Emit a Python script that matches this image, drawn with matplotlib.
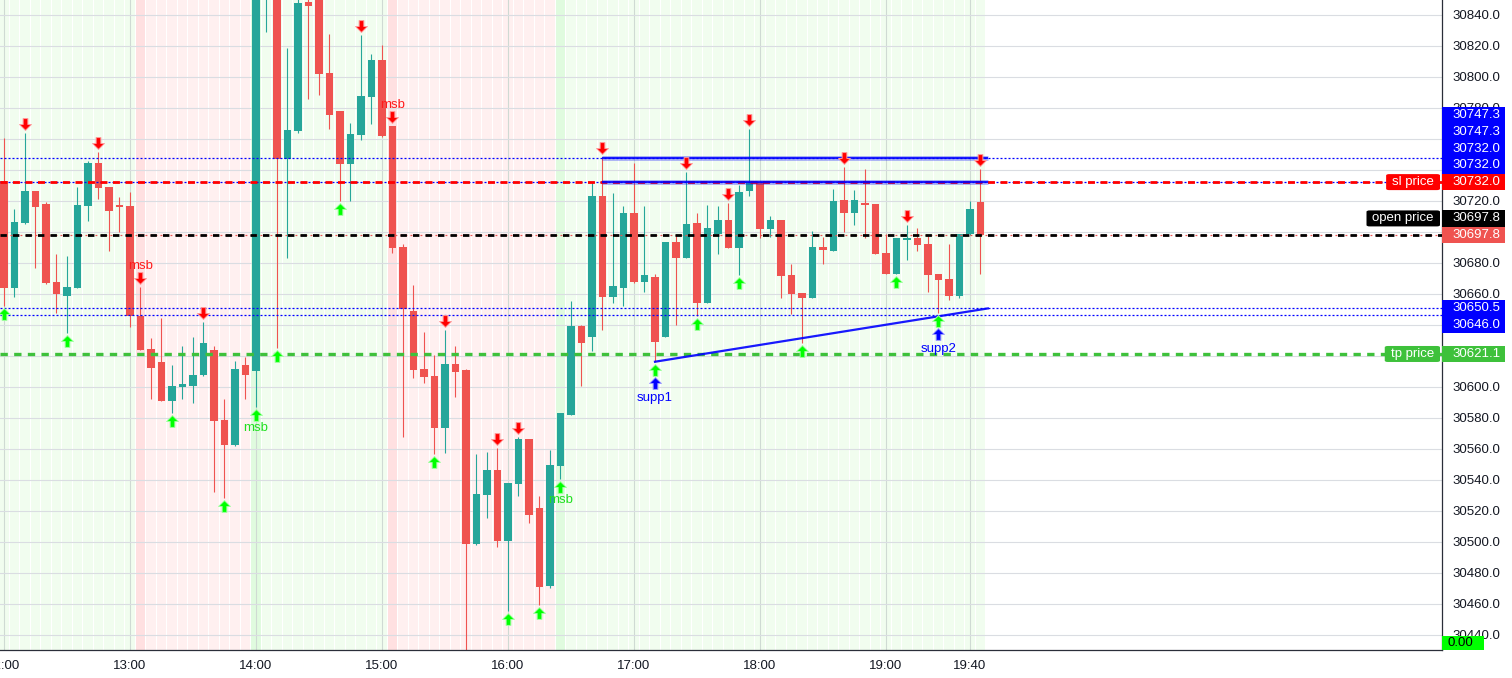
"""Tái tạo biểu đồ nến 5 phút với vùng msb, mức sl/tp và đường hỗ trợ/kháng cự."""

import matplotlib
import numpy as np

matplotlib.use("Agg")
from matplotlib import pyplot as plt
from matplotlib.patches import FancyBboxPatch, Rectangle
from matplotlib.path import Path
from matplotlib.transforms import offset_copy

OPENS = [
    30732.7, 30663.9, 30705.8, 30726.3, 30717.9, 30667.5, 30658.7, 30663.9, 30716.6, 30744.3,
    30728.8, 30717.2, 30716.6, 30645.6, 30624.3, 30615.9, 30590.9, 30600.0, 30600.6, 30607.7,
    30623.7, 30578.5, 30562.5, 30614.0, 30610.3, 30860.0, 30870.0, 30746.7, 30765.0, 30848.2,
    30855.0, 30802.4, 30777.9, 30743.9, 30762.6, 30787.1, 30810.8, 30768.2, 30690.1, 30648.7,
    30611.4, 30606.9, 30573.5, 30614.7, 30610.8, 30498.5, 30530.1, 30546.3, 30500.5, 30537.4,
    30566.3, 30521.8, 30471.4, 30549.0, 30581.9, 30639.2, 30632.1, 30723.0, 30657.9, 30663.9,
    30712.3, 30667.4, 30671.0, 30632.1, 30693.4, 30683.2, 30705.4, 30654.2, 30698.5, 30707.5,
    30689.7, 30726.5, 30732.3, 30701.9, 30707.5, 30672.0, 30660.5, 30657.4, 30690.1, 30687.7,
    30720.5, 30712.3, 30718.3, 30717.9, 30686.3, 30672.9, 30694.8, 30695.9, 30692.1, 30672.7,
    30669.5, 30658.7, 30698.3, 30719.2,
]
HIGHS = [
    30760.3, 30714.6, 30763.9, 30726.5, 30719.0, 30685.6, 30684.3, 30728.6, 30745.6, 30751.6,
    30729.0, 30722.4, 30725.6, 30664.3, 30631.4, 30644.3, 30614.0, 30626.3, 30632.1, 30641.7,
    30626.3, 30592.0, 30616.6, 30619.2, 30890.0, 30890.0, 30875.0, 30818.7, 30855.0, 30856.0,
    30860.0, 30827.5, 30778.0, 30770.1, 30826.9, 30814.6, 30820.5, 30768.5, 30691.9, 30665.6,
    30635.3, 30620.5, 30636.6, 30626.3, 30611.4, 30556.6, 30557.9, 30560.4, 30538.0, 30567.7,
    30566.5, 30529.5, 30559.2, 30583.0, 30655.3, 30639.5, 30732.3, 30748.4, 30725.2, 30716.6,
    30744.1, 30716.6, 30672.5, 30693.6, 30697.2, 30738.7, 30712.3, 30717.2, 30716.6, 30718.7,
    30730.1, 30766.3, 30732.5, 30710.1, 30707.7, 30679.2, 30660.7, 30700.5, 30696.6, 30727.5,
    30741.5, 30726.9, 30740.3, 30718.0, 30698.3, 30696.0, 30704.3, 30702.4, 30697.2, 30673.0,
    30692.1, 30698.5, 30720.0, 30740.3,
]
LOWS = [
    30652.1, 30658.1, 30705.0, 30676.8, 30666.0, 30647.4, 30634.8, 30663.5, 30707.1, 30721.3,
    30687.7, 30700.0, 30638.7, 30623.5, 30592.3, 30590.5, 30583.2, 30591.9, 30589.7, 30607.0,
    30532.3, 30528.0, 30562.0, 30592.3, 30587.1, 30829.0, 30624.8, 30682.8, 30763.9, 30785.8,
    30788.4, 30766.5, 30719.8, 30719.8, 30759.0, 30769.7, 30761.3, 30686.5, 30567.7, 30605.8,
    30602.6, 30556.6, 30557.4, 30593.5, 30428.0, 30498.0, 30515.5, 30496.8, 30455.3, 30529.7,
    30512.3, 30459.2, 30470.3, 30540.3, 30581.5, 30600.5, 30623.2, 30636.6, 30654.2, 30652.1,
    30667.0, 30661.3, 30616.1, 30631.8, 30639.8, 30683.0, 30645.6, 30654.0, 30685.6, 30689.5,
    30672.0, 30723.2, 30695.7, 30696.8, 30657.4, 30646.9, 30628.0, 30657.0, 30679.4, 30687.5,
    30700.0, 30704.3, 30696.1, 30685.5, 30672.5, 30672.5, 30681.7, 30687.7, 30661.3, 30647.4,
    30655.9, 30657.4, 30698.0, 30672.9,
]
CLOSES = [
    30663.9, 30706.3, 30726.3, 30716.1, 30667.1, 30660.0, 30664.3, 30717.2, 30744.3, 30728.4,
    30713.5, 30716.1, 30645.6, 30623.9, 30612.3, 30590.9, 30600.5, 30601.7, 30607.4, 30628.2,
    30578.0, 30562.5, 30611.4, 30607.5, 30880.0, 30885.0, 30746.7, 30765.6, 30847.7, 30845.8,
    30801.9, 30775.5, 30743.9, 30763.0, 30787.5, 30810.8, 30761.9, 30689.7, 30649.9, 30611.0,
    30606.5, 30573.5, 30614.7, 30609.5, 30498.5, 30530.8, 30546.3, 30500.5, 30537.9, 30566.3,
    30517.5, 30471.0, 30549.5, 30582.9, 30639.2, 30628.0, 30723.0, 30657.9, 30665.0, 30712.3,
    30667.7, 30672.3, 30629.0, 30693.4, 30683.2, 30705.0, 30654.2, 30702.4, 30707.5, 30689.7,
    30725.8, 30732.3, 30701.9, 30707.5, 30671.6, 30660.0, 30657.4, 30690.1, 30688.0, 30719.8,
    30712.3, 30720.5, 30717.2, 30685.8, 30672.9, 30695.9, 30695.9, 30691.6, 30672.3, 30669.0,
    30658.7, 30698.3, 30714.6, 30697.8,
]

HOUR_INDEX = [0, 12, 24, 36, 48, 60, 72, 84, 92]
HOUR_LABELS = ["12:00", "13:00", "14:00", "15:00", "16:00", "17:00", "18:00", "19:00", "19:40"]

# nến bắt đầu mỗi vùng nền, và phe của vùng đó
ZONE_STARTS = [0, 13, 24, 37, 53]
ZONE_SIDES = ["bull", "bear", "bull", "bear", "bull"]

RED_ARROW_BARS = [2, 9, 13, 19, 34, 37, 42, 47, 49, 57, 65, 69, 71, 80, 86, 93]
GREEN_ARROW_BARS = [0, 6, 16, 21, 24, 26, 32, 41, 48, 51, 53, 62, 66, 70, 76, 85, 89]
MSB_BEAR_BARS = [13, 37]
MSB_BULL_BARS = [24, 53]
SUPPORT_BARS = [62, 89]
SUPPORT_NAMES = ["supp1", "supp2"]

SL_PRICE = 30732.0
OPEN_PRICE = 30697.8
TP_PRICE = 30621.1
LAST_PRICE = 30697.8
BLUE_LEVELS = [30747.3, 30732.0, 30650.5, 30646.0]

RESIST_X = [57, 93.7]
RESIST_LEVELS = [30747.3, 30732.0]
SUPPORT_X = [62, 93.7]
SUPPORT_Y = [30616.1, 30650.5]

# nhóm nhãn giá bên trục phải: (vị trí nhãn neo đúng giá, giá, màu)
TAG_GROUPS = [
    (4, [30747.3, 30747.3, 30732.0, 30732.0, 30732.0],
     ["#0000ff", "#0000ff", "#0000ff", "#0000ff", "#ff0000"]),
    (1, [30697.8, 30697.8], ["#000000", "#ef5350"]),
    (0, [30650.5, 30646.0], ["#0000ff", "#0000ff"]),
    (0, [30621.1], ["#3ec13b"]),
]
# nhãn tên bên trái trục: (nhóm, vị trí trong nhóm, chữ, màu)
NAME_TAGS = [
    (0, 4, "sl price", "#ff0000"),
    (1, 0, "open price", "#000000"),
    (3, 0, "tp price", "#3ec13b"),
]
INDICATOR_VALUE = 0.0

WIDTH_PX, HEIGHT_PX, DPI = 1512, 678, 100
PLOT_RIGHT_PX, PLOT_BOTTOM_PX = 1442, 650
BAR_PX, FIRST_BAR_PX = 10.5, 4.0
X_MIN = -FIRST_BAR_PX / BAR_PX
X_MAX = X_MIN + PLOT_RIGHT_PX / BAR_PX
Y_MIN, Y_MAX = 30430.1, 30849.5
TAG_H = 16.7

UP_COLOR = "#26a69a"
DOWN_COLOR = "#ef5350"
TEXT_COLOR = "#131722"
FONT_SIZE = 9.5


def _zones(ax, n: int) -> None:
    """Vẽ dải nền xanh/đỏ nhạt theo từng nến, nến đầu vùng đậm hơn."""
    palette = {
        ("bull", False): "#f1fdef",
        ("bull", True): "#e0fbdf",
        ("bear", False): "#fff0f0",
        ("bear", True): "#ffe0e1",
    }
    colors = []
    for k, start in enumerate(ZONE_STARTS):
        end = ZONE_STARTS[k + 1] if k + 1 < len(ZONE_STARTS) else n
        for i in range(start, end):
            colors.append(palette[(ZONE_SIDES[k], k > 0 and i == start)])
    ax.bar(np.arange(n), Y_MAX - Y_MIN + 50, bottom=Y_MIN - 25, width=0.9,
           color=colors, linewidth=0, zorder=-2)


def _candles(ax) -> None:
    """Vẽ râu và thân nến."""
    o, h, l, c = (np.asarray(v) for v in (OPENS, HIGHS, LOWS, CLOSES))
    idx = np.arange(len(o))
    colors = np.where(c >= o, UP_COLOR, DOWN_COLOR)
    ax.vlines(idx, l, h, colors=colors, linewidth=0.8, zorder=2)
    ax.bar(idx, np.maximum(np.abs(c - o), 0.8), bottom=np.minimum(o, c), width=0.68,
           color=colors, linewidth=0, zorder=2.1)


def _levels(ax) -> None:
    """Vẽ các mức giá ngang, đường kháng cự và đường hỗ trợ."""
    for level in BLUE_LEVELS:
        ax.axhline(level, color="#0000ff", linewidth=0.9, linestyle=(0, (1.6, 1.6)), zorder=3)
    ax.axhline(LAST_PRICE, color="#ef5350", linewidth=0.9, linestyle=(0, (1.5, 2.5)), zorder=3)
    ax.axhline(OPEN_PRICE, color="#000000", linewidth=2.0, linestyle=(0, (2.3, 2.2)), zorder=3.2)
    ax.axhline(SL_PRICE, color="#ff0000", linewidth=2.0, linestyle=(0, (2.5, 2.0)), zorder=3.2)
    ax.axhline(TP_PRICE, color="#3ec13b", linewidth=2.4, linestyle=(0, (2.2, 1.9)), zorder=3.2)
    for level in RESIST_LEVELS:
        ax.plot(RESIST_X, [level, level], color="#0000ff", alpha=0.28, linewidth=3.6,
                solid_capstyle="butt", zorder=3.4)
        ax.plot(RESIST_X, [level, level], color="#0000ff", alpha=0.85, linewidth=1.5,
                solid_capstyle="butt", zorder=3.5)
    ax.plot(SUPPORT_X, SUPPORT_Y, color="#0000ff", alpha=0.9, linewidth=1.6, zorder=3.5)


def _arrow(up: bool) -> Path:
    """Mũi tên khối dùng làm marker."""
    sign = 1 if up else -1
    verts = [(-0.2, -0.5), (0.2, -0.5), (0.2, 0.0), (0.5, 0.0), (0.0, 0.5),
             (-0.5, 0.0), (-0.2, 0.0), (-0.2, -0.5)]
    verts = [(x, sign * y) for x, y in verts]
    codes = [Path.MOVETO] + [Path.LINETO] * 6 + [Path.CLOSEPOLY]
    return Path(verts, codes)


def _signals(fig, ax) -> None:
    """Vẽ mũi tên tín hiệu, chữ msb và nhãn supp."""
    highs = np.asarray(HIGHS)
    lows = np.asarray(LOWS)

    def shifted(dy):
        return offset_copy(ax.transData, fig=fig, x=0, y=dy, units="dots")

    ax.plot(RED_ARROW_BARS, highs[RED_ARROW_BARS], linestyle="none", marker=_arrow(False),
            markersize=8.5, markerfacecolor="#ff0000", markeredgecolor="#ff9a9a",
            markeredgewidth=0.7, transform=shifted(9), zorder=4)
    ax.plot(GREEN_ARROW_BARS, lows[GREEN_ARROW_BARS], linestyle="none", marker=_arrow(True),
            markersize=8.5, markerfacecolor="#00ff00", markeredgecolor="#a0ffa0",
            markeredgewidth=0.7, transform=shifted(-8), zorder=4)
    ax.plot(SUPPORT_BARS, lows[SUPPORT_BARS], linestyle="none", marker=_arrow(True),
            markersize=8.5, markerfacecolor="#0000ff", markeredgecolor="#9a9aff",
            markeredgewidth=0.7, transform=shifted(-21), zorder=4)
    for bar in MSB_BEAR_BARS:
        ax.text(bar, highs[bar], "msb", color="#ff1a1a", fontsize=9.5, ha="center",
                va="center", transform=shifted(21), zorder=4)
    for bar in MSB_BULL_BARS:
        ax.text(bar, lows[bar], "msb", color="#1fe01f", fontsize=9.5, ha="center",
                va="center", transform=shifted(-21), zorder=4)
    for bar, name in zip(SUPPORT_BARS, SUPPORT_NAMES, strict=True):
        ax.text(bar, lows[bar], name, color="#0000ff", fontsize=9.5, ha="center",
                va="center", transform=shifted(-36), zorder=4)


def _style_axes(ax) -> None:
    """Trục giờ bên dưới, trục giá bên phải và lưới nhạt."""
    ax.set_xticks(HOUR_INDEX, HOUR_LABELS)
    ax.yaxis.tick_right()
    ax.tick_params(axis="y", length=0, pad=7.3, labelsize=FONT_SIZE, labelcolor=TEXT_COLOR)
    ax.tick_params(axis="x", length=0, pad=7.0, labelsize=FONT_SIZE, labelcolor=TEXT_COLOR)
    ax.set_axisbelow(True)
    ax.grid(axis="y", color="#dadde2", linewidth=0.8)
    ax.grid(axis="x", color="#cfdad3", linewidth=0.8)
    for side in ("left", "top"):
        ax.spines[side].set_visible(False)
    for side in ("right", "bottom"):
        ax.spines[side].set_color("#2a2e39")
        ax.spines[side].set_linewidth(0.9)


def _price_ticks(ax, tag_spans: list[tuple[float, float]]) -> None:
    """Nhãn giá trục phải; bỏ chữ của các mức bị nhãn màu che kín."""
    y_ticks = np.arange(30440, 30841, 20)
    labels = []
    for value in y_ticks:
        y = ax.transData.transform((0, value))[1]
        hidden = any(lo <= y - 5 and y + 5 <= hi for lo, hi in tag_spans)
        labels.append("" if hidden else f"{value:.1f}")
    ax.set_yticks(y_ticks, labels)


def _price_tags(fig, ax) -> list[tuple[float, float]]:
    """Nhãn giá xếp chồng trên trục phải và nhãn tên bên trái trục."""
    renderer = fig.canvas.get_renderer()
    x0 = PLOT_RIGHT_PX
    positions = []
    for anchor, values, colors in TAG_GROUPS:
        y_anchor = ax.transData.transform((0, values[anchor]))[1]
        group = []
        for k, (value, color) in enumerate(zip(values, colors, strict=True)):
            y = y_anchor + (anchor - k) * TAG_H
            group.append(y)
            fig.add_artist(Rectangle((x0 / WIDTH_PX, (y - TAG_H / 2) / HEIGHT_PX),
                                     63 / WIDTH_PX, TAG_H / HEIGHT_PX,
                                     transform=fig.transFigure, facecolor=color,
                                     edgecolor="none", zorder=5))
            fig.text((x0 + 10) / WIDTH_PX, y / HEIGHT_PX, f"{value:.1f}", color="white",
                     fontsize=FONT_SIZE, ha="left", va="center", zorder=6)
        positions.append(group)

    for group, k, name, color in NAME_TAGS:
        y = positions[group][k]
        text = fig.text((x0 - 8) / WIDTH_PX, y / HEIGHT_PX, name, color="white",
                        fontsize=FONT_SIZE, ha="right", va="center", zorder=6)
        width = text.get_window_extent(renderer).width + 12
        fig.add_artist(FancyBboxPatch(((x0 - 2 - width) / WIDTH_PX, (y - 8) / HEIGHT_PX),
                                      width / WIDTH_PX, 16 / HEIGHT_PX,
                                      boxstyle="round,pad=0,rounding_size=0.002",
                                      transform=fig.transFigure, facecolor=color,
                                      edgecolor="none", zorder=5))

    y_base = HEIGHT_PX - PLOT_BOTTOM_PX
    fig.add_artist(Rectangle((x0 / WIDTH_PX, y_base / HEIGHT_PX), 42 / WIDTH_PX,
                             14 / HEIGHT_PX, transform=fig.transFigure,
                             facecolor="#00ff00", edgecolor="none", zorder=5))
    fig.text((x0 + 6) / WIDTH_PX, (y_base + 7) / HEIGHT_PX, f"{INDICATOR_VALUE:.2f}",
             color="#000000", fontsize=FONT_SIZE, ha="left", va="center", zorder=6)
    return [(min(g) - TAG_H / 2, max(g) + TAG_H / 2) for g in positions]


def main() -> None:
    plt.rcParams["font.family"] = ["Liberation Sans", "DejaVu Sans"]
    fig = plt.figure(figsize=(WIDTH_PX / DPI, HEIGHT_PX / DPI), dpi=DPI)
    ax = fig.add_axes((0, (HEIGHT_PX - PLOT_BOTTOM_PX) / HEIGHT_PX,
                       PLOT_RIGHT_PX / WIDTH_PX, PLOT_BOTTOM_PX / HEIGHT_PX))
    ax.set_xlim(X_MIN, X_MAX)
    ax.set_ylim(Y_MIN, Y_MAX)
    _zones(ax, len(OPENS))
    _candles(ax)
    _levels(ax)
    _signals(fig, ax)
    _style_axes(ax)
    ax.set_xlim(X_MIN, X_MAX)
    ax.set_ylim(Y_MIN, Y_MAX)
    tag_spans = _price_tags(fig, ax)
    _price_ticks(ax, tag_spans)
    ax.set_ylim(Y_MIN, Y_MAX)
    fig.savefig("out.png", dpi=DPI)
    plt.close(fig)


if __name__ == "__main__":
    main()
